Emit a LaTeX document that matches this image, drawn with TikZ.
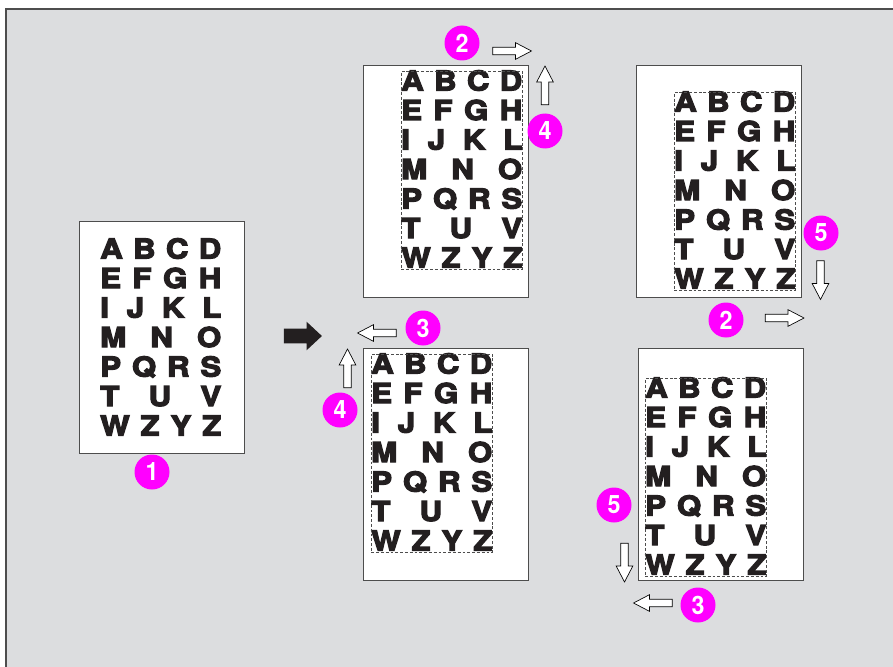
\documentclass[tikz,border=0pt]{standalone}
\usepackage{fontspec}
\setsansfont{TeX Gyre Heros}
\newfontfamily\sheetfont{TeX Gyre Heros}[BoldFeatures={FakeBold=4.5,FakeStretch=1.14}]
\newfontfamily\calloutfont{TeX Gyre Heros}[BoldFeatures={FakeStretch=0.92}]
\usetikzlibrary{shapes.arrows}
\definecolor{LayoutPanel}{HTML}{DCDDDF}
\definecolor{LayoutEdge}{HTML}{4D4D4D}
\definecolor{LayoutInk}{HTML}{231F20}
\definecolor{LayoutMagenta}{HTML}{FF00FF}
\newcommand{\blockwidth}{90.75pt}
\newcommand{\letterrows}{{A\hfil B\hfil C\hfil D},{E\hfil F\hfil G\hfil H},{I\hfil J\hfil K\hfil L},{M\hfil N\hfil O},{P\hfil Q\hfil R\hfil S},{T\hfil U\hfil V},{W\hfil Z\hfil Y\hfil Z}}
\newcommand{\lettersheet}[5]{%
  \node[layoutsheet] (#1) at (#2,#3) {};
  \foreach \row [count=\i from 0] in \letterrows {
    \node[letterrow] (#1-r\i) at (#4,#5+19.5+\i*29.5) {\hbox to \blockwidth{\row}};
  }
}
\tikzset{
  panel/.style={
    fill=LayoutPanel,
    draw=LayoutEdge,
    line width=1.2pt
  },
  layoutsheet/.style={
    draw=LayoutEdge,
    fill=white,
    line width=0.8pt,
    anchor=north west,
    inner sep=0pt,
    minimum width=123.75pt,
    minimum height=174pt
  },
  printarea/.style={
    draw=LayoutEdge,
    dashed,
    dash pattern=on 2.2pt off 1.4pt,
    line width=0.45pt,
    anchor=north west,
    inner sep=0pt,
    minimum width=90.75pt,
    minimum height=148.5pt
  },
  letterrow/.style={
    anchor=base west,
    inner sep=0pt,
    text=LayoutInk,
    font=\sheetfont\bfseries\fontsize{20.5}{20.5}\selectfont
  },
  callout/.style={
    circle,
    fill=LayoutMagenta,
    text=white,
    inner sep=0pt,
    minimum size=26.25pt,
    font=\calloutfont\bfseries\fontsize{19}{19}\selectfont
  },
  hollowarrow/.style={
    single arrow,
    draw=black,
    fill=white,
    line width=0.5pt,
    inner xsep=0pt,
    inner ysep=2.6pt,
    minimum height=29pt,
    single arrow head extend=3.4pt,
    single arrow tip angle=55,
    single arrow head indent=0pt
  },
  solidarrow/.style={
    single arrow,
    fill=LayoutInk,
    inner xsep=0pt,
    inner ysep=5.25pt,
    minimum height=28.5pt,
    single arrow head extend=5.25pt,
    single arrow tip angle=86
  }
}

\begin{document}
\begin{tikzpicture}[x=0.75pt,y=-0.75pt]
  \useasboundingbox (0,0) rectangle (893,667);
  \draw[panel] (6,9) rectangle (910,680);

  \lettersheet{s1}{79}{221}{100}{239}
  \lettersheet{s2}{363}{65}{401}{71}
  \lettersheet{s3}{636}{65}{674}{92}
  \lettersheet{s4}{363}{348}{371}{354}
  \lettersheet{s5}{638}{348}{645}{378}
  \node[printarea] (s2-area) at (401,71) {};
  \node[printarea] (s3-area) at (674,92) {};
  \node[printarea] (s4-area) at (371,354) {};
  \node[printarea] (s5-area) at (645,378) {};

  \node[solidarrow] (go) at (299,336) {};

  \node[callout] (n1) at (152,472) {1};
  \node[callout] (s2-n2) at (462,43) {2};
  \node[callout] (s2-n4) at (545,131) {4};
  \node[callout] (s3-n5) at (821,233) {5};
  \node[callout] (s3-n2) at (726,320) {2};
  \node[callout] (s4-n3) at (423,328) {3};
  \node[callout] (s4-n4) at (340,410) {4};
  \node[callout] (s5-n5) at (614,505) {5};
  \node[callout] (s5-n3) at (698,605) {3};

  \node[hollowarrow] (s2-right) at (508.5,51) {};
  \node[hollowarrow,rotate=90] (s2-up) at (545,89) {};
  \node[hollowarrow,rotate=-90] (s3-down) at (820.5,276.5) {};
  \node[hollowarrow] (s3-right) at (781,318) {};
  \node[hollowarrow,rotate=180] (s4-left) at (380.5,333) {};
  \node[hollowarrow,rotate=90] (s4-up) at (347.5,372) {};
  \node[hollowarrow,rotate=-90] (s5-down) at (624.5,559) {};
  \node[hollowarrow,rotate=180] (s5-left) at (656.5,603) {};
\end{tikzpicture}
\end{document}
